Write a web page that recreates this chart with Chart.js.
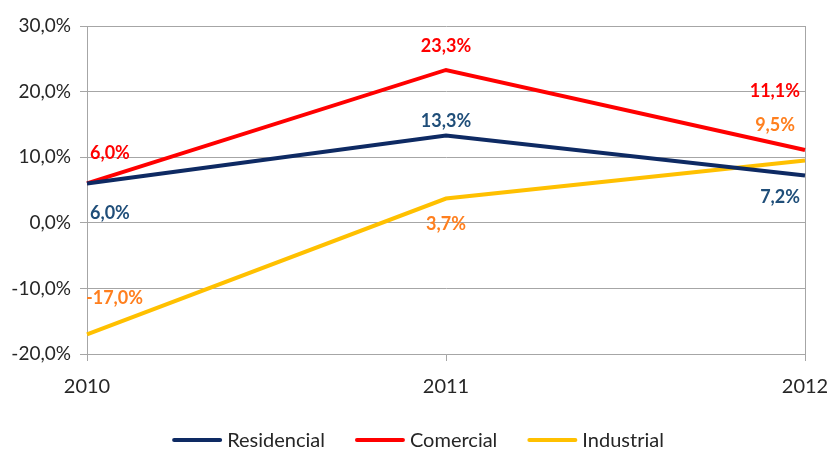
<!DOCTYPE html>
<html><head><meta charset="utf-8">
<script src="https://cdn.jsdelivr.net/npm/chart.js@4"></script>
<style>html,body{margin:0;padding:0;background:#fff}#w{width:833px;height:450px}</style>
</head><body><div id="w"><canvas id="c"></canvas></div>
<script>
const categories = ['2010', '2011', '2012'];
const residencial = [6.0, 13.3, 7.2];
const comercial = [6.0, 23.3, 11.1];
const industrial = [-17.0, 3.7, 9.5];
const yTicks = [-20, -10, 0, 10, 20, 30];

const FONT = 'Lato, "Open Sans", sans-serif';
const fmt = v => v.toFixed(1).replace('.', ',') + '%';

// label placement (dx, dy, align) per dataset per point
const labelPos = [
  [[3, 30, 'left'], [0, -14, 'center'], [-5, 22, 'right']],
  [[3, -30, 'left'], [0, -24, 'center'], [-5, -59, 'right']],
  [[-1, -36, 'left'], [0, 26, 'center'], [-10, -35, 'right']]
];
const labelColors = ['#1F4E79', '#FF0000', '#FF7F1E'];

const dataLabels = {
  id: 'dataLabels',
  afterDatasetsDraw(chart) {
    const ctx = chart.ctx;
    ctx.save();
    ctx.font = 'bold 18px ' + FONT;
    ctx.textBaseline = 'middle';
    chart.data.datasets.forEach((ds, i) => {
      const meta = chart.getDatasetMeta(i);
      meta.data.forEach((pt, j) => {
        const [dx, dy, al] = labelPos[i][j];
        ctx.fillStyle = labelColors[i];
        ctx.textAlign = al;
        ctx.fillText(fmt(ds.data[j]), pt.x + dx, pt.y + dy);
      });
    });
    ctx.restore();
  }
};

const customLegend = {
  id: 'customLegend',
  afterDraw(chart) {
    const ctx = chart.ctx;
    ctx.save();
    ctx.font = '20px ' + FONT;
    ctx.textBaseline = 'middle';
    ctx.textAlign = 'left';
    const lineW = 50, gap = 5, itemGap = 30;
    const items = chart.data.datasets.map(d => ({ text: d.label, color: d.borderColor, w: ctx.measureText(d.label).width }));
    const total = items.reduce((s, it) => s + lineW + gap + it.w, 0) + itemGap * (items.length - 1);
    let x = 418 - total / 2;
    const y = 440;
    items.forEach(it => {
      ctx.fillStyle = it.color;
      ctx.beginPath();
      ctx.roundRect ? ctx.roundRect(x, y - 2, lineW, 4, 2) : ctx.rect(x, y - 2, lineW, 4);
      ctx.fill();
      x += lineW + gap;
      ctx.fillStyle = '#262626';
      ctx.fillText(it.text, x, y + 1);
      x += it.w + itemGap;
    });
    ctx.restore();
  }
};

new Chart(document.getElementById('c'), {
  type: 'line',
  data: {
    labels: categories,
    datasets: [
      { label: 'Residencial', data: residencial, borderColor: '#0E2A63', backgroundColor: '#0E2A63', borderWidth: 4, pointRadius: 0, tension: 0 },
      { label: 'Comercial', data: comercial, borderColor: '#FF0000', backgroundColor: '#FF0000', borderWidth: 4, pointRadius: 0, tension: 0 },
      { label: 'Industrial', data: industrial, borderColor: '#FFC000', backgroundColor: '#FFC000', borderWidth: 4, pointRadius: 0, tension: 0 }
    ]
  },
  options: {
    responsive: true,
    maintainAspectRatio: false,
    animation: false,
    layout: { padding: { left: 10, right: 28, top: 26, bottom: 23 } },
    plugins: {
      legend: { display: false },
      tooltip: { enabled: false }
    },
    scales: {
      x: {
        offset: false,
        afterFit: s => { s.height = 73; s.paddingRight = 0; s.paddingLeft = 0; },
        grid: {
          color: c => c.index === 2 ? '#A6A6A6' : 'rgba(0,0,0,0)',
          tickColor: '#A6A6A6', tickLength: 7, drawTicks: true
        },
        border: { color: '#A6A6A6' },
        ticks: { color: '#262626', font: { family: FONT, size: 20 }, padding: 14, maxRotation: 0 }
      },
      y: {
        min: -20, max: 30,
        afterBuildTicks: s => { s.ticks = yTicks.map(v => ({ value: v })); },
        afterFit: s => { s.width = 77; s.paddingTop = 0; s.paddingBottom = 0; },
        grid: { color: '#A6A6A6', tickColor: '#A6A6A6', tickLength: 7 },
        border: { color: '#A6A6A6' },
        ticks: { color: '#262626', font: { family: FONT, size: 19 }, padding: 9, callback: v => fmt(v) }
      }
    }
  },
  plugins: [dataLabels, customLegend]
});
</script></body></html>
